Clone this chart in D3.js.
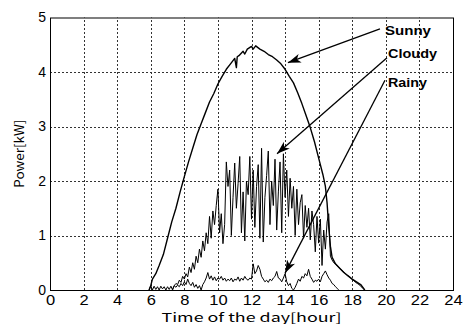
<!DOCTYPE html>
<html>
<head>
<meta charset="utf-8">
<script src="https://cdn.jsdelivr.net/npm/d3@7"></script>
<style>
  body { margin: 0; background: #fff; }
</style>
</head>
<body>
<svg id="chart" width="463" height="324"></svg>
<script>
// tick values
const xTicks = [0, 2, 4, 6, 8, 10, 12, 14, 16, 18, 20, 22, 24];
const yTicks = [0, 1, 2, 3, 4, 5];

// sunny day (hour, kW)
const sunnyHours = [5.9, 6.0, 6.1, 6.3, 6.5, 6.75, 7.0, 7.25, 7.5, 7.75, 8.0, 8.25, 8.5, 8.75, 9.0, 9.25, 9.5, 9.75,
  10.0, 10.25, 10.5, 10.75, 11.0, 11.1, 11.15, 11.25, 11.5, 11.6, 11.75, 12.0, 12.1, 12.25, 12.5, 12.75,
  13.0, 13.25, 13.5, 13.75, 14.0, 14.25, 14.5, 14.75, 15.0, 15.25, 15.5, 15.75, 16.0, 16.25, 16.4, 16.5,
  16.6, 16.7, 16.8, 17.0, 17.25, 17.5, 17.75, 18.0, 18.25, 18.5, 18.7, 18.75];
const sunnyKW = [0, 0.08, 0.2, 0.3, 0.45, 0.65, 0.95, 1.25, 1.5, 1.8, 2.08, 2.35, 2.6, 2.85, 3.05, 3.25, 3.45, 3.6,
  3.78, 3.92, 4.05, 4.15, 4.25, 4.08, 4.28, 4.3, 4.38, 4.33, 4.42, 4.47, 4.42, 4.48, 4.42, 4.38,
  4.32, 4.28, 4.22, 4.15, 4.05, 3.92, 3.8, 3.62, 3.42, 3.2, 2.98, 2.72, 2.42, 2.12, 1.9, 1.6,
  1.15, 0.8, 0.6, 0.48, 0.4, 0.32, 0.26, 0.2, 0.15, 0.1, 0.02, 0];

// cloudy day, sampled every 0.1 h from 7.3 h
const cloudyStart = 7.3;
const cloudyStep = 0.1;
const cloudyKW = [0.02, 0.08, 0.12, 0.1, 0.18, 0.14, 0.25, 0.2, 0.3, 0.24,
  0.42, 0.32, 0.5, 0.38, 0.62, 0.5, 0.75, 0.6, 0.9, 0.72,
  1.05, 0.85,
  1.35, 0.95, 1.45, 1.2, 1.55, 1.85, 1.05, 1.4, 0.85, 1.2,
  2.35, 1.9, 2.2, 1.0, 1.7, 2.33, 1.5, 1.95, 2.45, 1.05,
  1.8, 0.9, 2.0, 1.75, 2.45, 1.3, 2.2, 1.15, 1.9, 2.3,
  0.95, 2.6, 0.88, 1.7, 2.1, 2.55, 1.2, 2.0, 1.55, 2.4,
  1.1, 1.8, 2.35, 1.05, 2.5, 1.7, 2.2, 1.35, 2.05, 1.5,
  1.9, 1.0, 1.85, 1.2, 1.6, 1.75, 0.95, 1.55, 1.15, 1.5,
  0.92, 1.45, 1.2, 0.7, 1.35, 0.86, 1.3, 0.45, 1.1, 0.75,
  1.25, 1.4, 0.62,
  0.55, 0.5, 0.48, 0.44, 0.42, 0.38, 0.36, 0.33, 0.3, 0.27,
  0.25, 0.22, 0.19, 0.17, 0.14, 0.12, 0.1, 0.07, 0.04, 0.01];

// rainy day, sampled every 0.1 h from 5.9 h
const rainyStart = 5.9;
const rainyStep = 0.1;
const rainyKW = [0, 0.08, 0, 0.07, 0.01, 0.06, 0, 0.07, 0.02, 0.06,
  0, 0.06, 0.01, 0.07, 0, 0.08, 0.05, 0.09, 0.06, 0.12,
  0.08, 0.15, 0.1, 0.2, 0.12, 0.08, 0.14, 0.05, 0.1, 0.03,
  0.08, 0, 0.1, 0.15, 0.22, 0.32, 0.2, 0.26, 0.18, 0.24,
  0.17, 0.22, 0.2, 0.25, 0.18, 0.22, 0.16, 0.2, 0.17, 0.22,
  0.15, 0.2, 0.18, 0.24, 0.16, 0.22, 0.18, 0.25, 0.2, 0.18,
  0.22, 0.2, 0.48, 0.3, 0.35, 0.45, 0.38, 0.25, 0.2, 0.15,
  0.18, 0.14, 0.2, 0.17, 0.22, 0.25, 0.34, 0.22, 0.2, 0.15,
  0.22, 0.3, 0.15, 0.08, 0.12, 0.03, 0, 0.05, 0.12, 0.2,
  0.16, 0.25, 0.22, 0.3, 0.26, 0.38, 0.25, 0.2, 0.14, 0.18,
  0.16, 0.2, 0.15, 0.25, 0.3, 0.35, 0.28, 0.22, 0.18, 0.12,
  0.1, 0.06, 0.03, 0];

const labels = ['Sunny', 'Cloudy', 'Rainy'];

const svg = d3.select('#chart');
const margin = { top: 17.5, right: 10, bottom: 34, left: 50 };
const width = 463, height = 324;

const x = d3.scaleLinear().domain([0, 24]).range([margin.left, width - margin.right]);
const y = d3.scaleLinear().domain([0, 5]).range([height - margin.bottom, margin.top]);

// grid
const grid = svg.append('g')
  .attr('stroke', '#333')
  .attr('stroke-width', 1)
  .attr('stroke-dasharray', '2,2');
grid.selectAll('.vg').data(xTicks.slice(1, -1)).enter().append('line')
  .attr('x1', d => Math.round(x(d)) + 0.5).attr('x2', d => Math.round(x(d)) + 0.5)
  .attr('y1', y(0)).attr('y2', y(5));
grid.selectAll('.hg').data(yTicks.slice(1, -1)).enter().append('line')
  .attr('y1', d => Math.round(y(d)) + 0.5).attr('y2', d => Math.round(y(d)) + 0.5)
  .attr('x1', x(0)).attr('x2', x(24));

// series
const line = d3.line().x(d => x(d[0])).y(d => y(d[1]));
const series = [
  sunnyHours.map((h, i) => [h, sunnyKW[i]]),
  cloudyKW.map((v, i) => [cloudyStart + i * cloudyStep, v]),
  rainyKW.map((v, i) => [rainyStart + i * rainyStep, v])
];
svg.append('g').selectAll('path').data(series).enter().append('path')
  .attr('d', line)
  .attr('fill', 'none')
  .attr('stroke', '#000')
  .attr('stroke-width', (d, i) => i === 0 ? 1.4 : 1)
  .attr('stroke-linejoin', 'round');

// frame
svg.append('rect')
  .attr('x', x(0) + 0.5).attr('y', y(5) + 0.5)
  .attr('width', x(24) - x(0)).attr('height', y(0) - y(5))
  .attr('fill', 'none').attr('stroke', '#000').attr('stroke-width', 1);

// axes
const xAxis = svg.append('g')
  .attr('transform', `translate(0,${y(0)})`)
  .call(d3.axisBottom(x).tickValues(xTicks).tickSize(0).tickPadding(5));
const yAxis = svg.append('g')
  .attr('transform', `translate(${x(0)},0)`)
  .call(d3.axisLeft(y).tickValues(yTicks).tickFormat(d3.format('d')).tickSize(0).tickPadding(4));
[xAxis, yAxis].forEach(g => {
  g.select('.domain').remove();
  g.selectAll('text')
    .attr('fill', '#000')
    .style('font-family', '"Liberation Sans", Arial, sans-serif')
    .style('font-size', '14px');
});
xAxis.selectAll('text').attr('transform', 'scale(1.18,1)');

// axis titles
svg.append('text')
  .attr('x', (x(0) + x(24)) / 2).attr('y', 321.5)
  .attr('text-anchor', 'middle')
  .attr('textLength', 180).attr('lengthAdjust', 'spacingAndGlyphs')
  .style('font-family', '"Noto Sans CJK JP", "DejaVu Sans", sans-serif')
  .style('font-size', '12px')
  .text('Time of the day[hour]');
svg.append('text')
  .attr('transform', `translate(23.5,${(y(0) + y(5)) / 2}) rotate(-90)`)
  .attr('text-anchor', 'middle')
  .attr('textLength', 68).attr('lengthAdjust', 'spacingAndGlyphs')
  .style('font-family', '"Noto Sans CJK JP", "DejaVu Sans", sans-serif')
  .style('font-size', '13px')
  .text('Power[kW]');

// annotations with arrows
svg.append('defs').append('marker')
  .attr('id', 'head')
  .attr('viewBox', '-13 -5 14 10')
  .attr('refX', 0).attr('refY', 0)
  .attr('markerWidth', 14).attr('markerHeight', 10)
  .attr('markerUnits', 'userSpaceOnUse')
  .attr('orient', 'auto')
  .append('path')
  .attr('d', 'M0,0 L-13,-4.5 L-9.5,0 L-13,4.5 Z')
  .attr('fill', '#000');

const arrowFrom = [[19.65, 4.79], [20.07, 4.26], [19.95, 3.85]];
const arrowTo = [[14.17, 4.17], [13.52, 2.5], [14.0, 0.31]];
const labelPos = [[19.95, 4.68], [20.13, 4.25], [20.13, 3.72]];
const labelLen = [46, 49, 39];

labels.forEach((name, i) => {
  svg.append('line')
    .attr('x1', x(arrowFrom[i][0])).attr('y1', y(arrowFrom[i][1]))
    .attr('x2', x(arrowTo[i][0])).attr('y2', y(arrowTo[i][1]))
    .attr('stroke', '#000').attr('stroke-width', 1.3)
    .attr('marker-end', 'url(#head)');
  svg.append('text')
    .attr('x', x(labelPos[i][0])).attr('y', y(labelPos[i][1]))
    .attr('textLength', labelLen[i]).attr('lengthAdjust', 'spacingAndGlyphs')
    .style('font-family', '"Liberation Sans", Arial, sans-serif')
    .style('font-weight', 'bold')
    .style('font-size', '12px')
    .text(name);
});
</script>
</body>
</html>
